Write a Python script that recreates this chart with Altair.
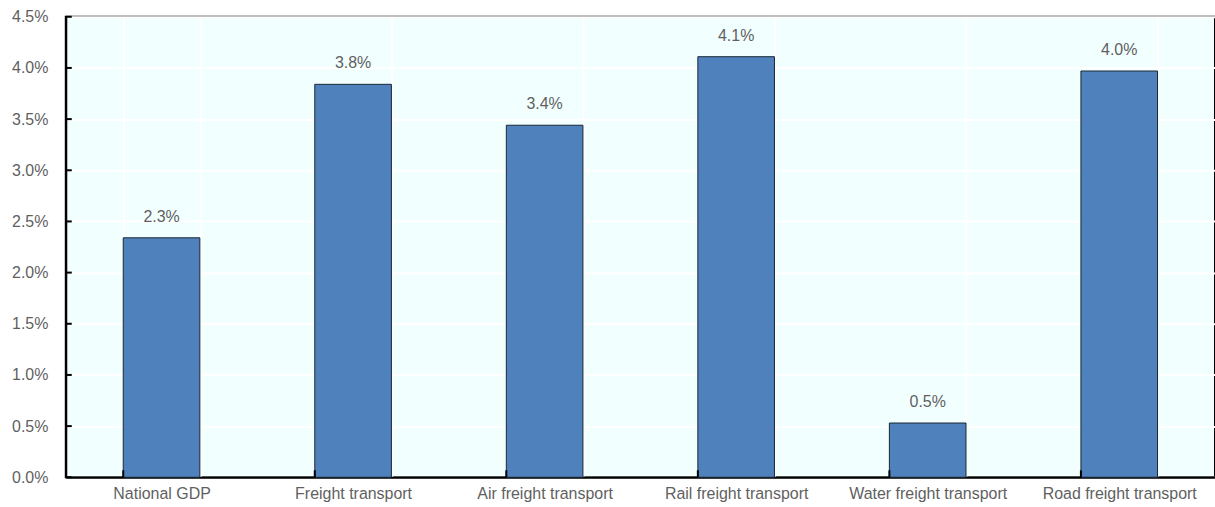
import altair as alt
import pandas as pd

categories = ["National GDP", "Freight transport", "Air freight transport",
              "Rail freight transport", "Water freight transport", "Road freight transport"]
values = [0.0234, 0.0384, 0.0344, 0.0411, 0.0053, 0.0397]
y_ticks = [0.0, 0.005, 0.01, 0.015, 0.02, 0.025, 0.03, 0.035, 0.04, 0.045]

df = pd.DataFrame({"cat": categories, "val": values})
ticks_df = pd.DataFrame({"t": y_ticks})

W, H = 1153, 462
FONT = "Liberation Sans"
FS = 16
GRAY = "#5f5f5f"

xenc = alt.X("cat:N", sort=categories, title=None,
             scale=alt.Scale(paddingInner=0.6, paddingOuter=0.3),
             axis=alt.Axis(labelAngle=0, labelFont=FONT, labelFontSize=FS, labelColor=GRAY,
                           labelLimit=0,
                           ticks=False, tickBand="extent", grid=True, gridColor="white",
                           gridWidth=2, domainColor="black", domainWidth=2, labelPadding=8))
yscale = alt.Scale(domain=[0, 0.045], nice=False)
yenc = alt.Y("val:Q", title=None, scale=yscale,
             axis=alt.Axis(values=y_ticks, format=".1%", labelFont=FONT, labelFontSize=FS,
                           labelColor=GRAY, ticks=False, grid=True, gridColor="white",
                           gridWidth=2, domainColor="black", domainWidth=2, labelPadding=18))

bars = alt.Chart(df).mark_bar(color="#4F81BD", stroke="#1a2633", strokeWidth=1).encode(
    x=xenc, y=yenc)

labels = alt.Chart(df).mark_text(font=FONT, fontSize=FS, color=GRAY, baseline="alphabetic", dy=-16).encode(
    x=alt.X("cat:N", sort=categories),
    y=alt.Y("val:Q", scale=yscale),
    text=alt.Text("val:Q", format=".1%"))

xticks = alt.Chart(df).mark_rule(color="black", strokeWidth=2).encode(
    x=alt.X("cat:N", sort=categories, bandPosition=0),
    y=alt.value(H - 7), y2=alt.value(H))

yticks = alt.Chart(ticks_df).mark_rule(color="black", strokeWidth=2).encode(
    y=alt.Y("t:Q", scale=yscale),
    x=alt.value(0), x2=alt.value(6))

chart = alt.layer(bars, labels, xticks, yticks).properties(
    width=W, height=H,
    autosize=alt.AutoSizeParams(type="none"),
    padding={"left": 66, "top": 16, "right": 0, "bottom": 29},
    background="white"
).configure_view(fill="#F2FFFF", stroke="black", strokeWidth=2)

chart.save("out.html", embed_options={"renderer": "svg", "actions": False})
